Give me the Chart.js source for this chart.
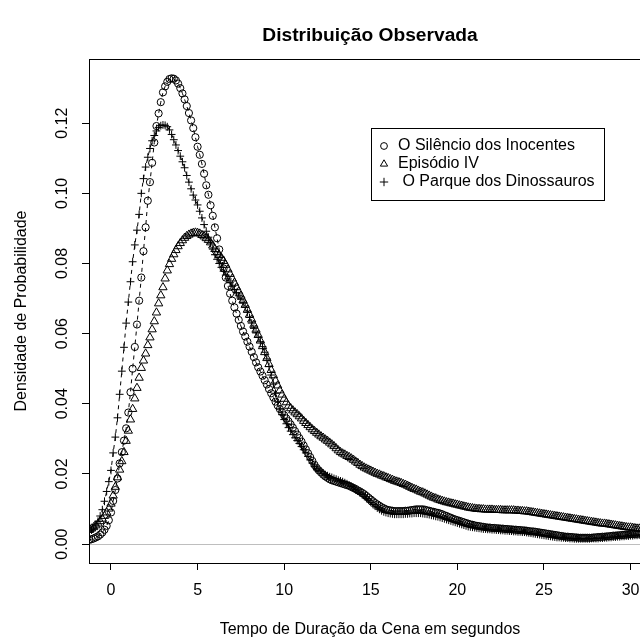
<!DOCTYPE html>
<html>
<head>
<meta charset="utf-8">
<title>Distribuição Observada</title>
<script src="https://cdn.jsdelivr.net/npm/chart.js@4.4.1/dist/chart.umd.min.js"></script>
<style>
  html, body { margin: 0; padding: 0; background: #fff; overflow: hidden; }
  #wrap { width: 662px; height: 638px; }
</style>
</head>
<body>
<div id="wrap"><canvas id="density-chart" width="662" height="638"></canvas></div>
<script>
// densidades (grade de 0.125 s)
const tempos = [
  -1.25, -1.125, -1, -0.875, -0.75, -0.625, -0.5, -0.375, -0.25, -0.125, 0, 0.125, 0.25, 0.375, 0.5, 0.625,
  0.75, 0.875, 1, 1.125, 1.25, 1.375, 1.5, 1.625, 1.75, 1.875, 2, 2.125, 2.25, 2.375, 2.5, 2.625,
  2.75, 2.875, 3, 3.125, 3.25, 3.375, 3.5, 3.625, 3.75, 3.875, 4, 4.125, 4.25, 4.375, 4.5, 4.625,
  4.75, 4.875, 5, 5.125, 5.25, 5.375, 5.5, 5.625, 5.75, 5.875, 6, 6.125, 6.25, 6.375, 6.5, 6.625,
  6.75, 6.875, 7, 7.125, 7.25, 7.375, 7.5, 7.625, 7.75, 7.875, 8, 8.125, 8.25, 8.375, 8.5, 8.625,
  8.75, 8.875, 9, 9.125, 9.25, 9.375, 9.5, 9.625, 9.75, 9.875, 10, 10.125, 10.25, 10.375, 10.5, 10.625,
  10.75, 10.875, 11, 11.125, 11.25, 11.375, 11.5, 11.625, 11.75, 11.875, 12, 12.125, 12.25, 12.375, 12.5, 12.625,
  12.75, 12.875, 13, 13.125, 13.25, 13.375, 13.5, 13.625, 13.75, 13.875, 14, 14.125, 14.25, 14.375, 14.5, 14.625,
  14.75, 14.875, 15, 15.125, 15.25, 15.375, 15.5, 15.625, 15.75, 15.875, 16, 16.125, 16.25, 16.375, 16.5, 16.625,
  16.75, 16.875, 17, 17.125, 17.25, 17.375, 17.5, 17.625, 17.75, 17.875, 18, 18.125, 18.25, 18.375, 18.5, 18.625,
  18.75, 18.875, 19, 19.125, 19.25, 19.375, 19.5, 19.625, 19.75, 19.875, 20, 20.125, 20.25, 20.375, 20.5, 20.625,
  20.75, 20.875, 21, 21.125, 21.25, 21.375, 21.5, 21.625, 21.75, 21.875, 22, 22.125, 22.25, 22.375, 22.5, 22.625,
  22.75, 22.875, 23, 23.125, 23.25, 23.375, 23.5, 23.625, 23.75, 23.875, 24, 24.125, 24.25, 24.375, 24.5, 24.625,
  24.75, 24.875, 25, 25.125, 25.25, 25.375, 25.5, 25.625, 25.75, 25.875, 26, 26.125, 26.25, 26.375, 26.5, 26.625,
  26.75, 26.875, 27, 27.125, 27.25, 27.375, 27.5, 27.625, 27.75, 27.875, 28, 28.125, 28.25, 28.375, 28.5, 28.625,
  28.75, 28.875, 29, 29.125, 29.25, 29.375, 29.5, 29.625, 29.75, 29.875, 30, 30.125, 30.25, 30.375, 30.5, 30.625
];

const silencio = [
  0.0012, 0.0014, 0.0016, 0.0019, 0.0022, 0.0027, 0.0033, 0.0041, 0.0052, 0.0068, 0.0090, 0.0123, 0.0154, 0.0187, 0.0230, 0.0262,
  0.0295, 0.0330, 0.0375, 0.0433, 0.0500, 0.0562, 0.0626, 0.0694, 0.0760, 0.0835, 0.0903, 0.0979, 0.1032, 0.1087, 0.1145, 0.1192,
  0.1228, 0.1260, 0.1288, 0.1305, 0.1318, 0.1326, 0.1328, 0.1327, 0.1322, 0.1313, 0.1300, 0.1285, 0.1268, 0.1249, 0.1229, 0.1208,
  0.1186, 0.1160, 0.1133, 0.1110, 0.1084, 0.1056, 0.1023, 0.0996, 0.0966, 0.0936, 0.0903, 0.0872, 0.0840, 0.0812, 0.0786, 0.0760,
  0.0736, 0.0714, 0.0694, 0.0675, 0.0657, 0.0639, 0.0622, 0.0606, 0.0592, 0.0577, 0.0563, 0.0548, 0.0533, 0.0518, 0.0504, 0.0492,
  0.0480, 0.0467, 0.0455, 0.0442, 0.0430, 0.0418, 0.0406, 0.0395, 0.0385, 0.0376, 0.0367, 0.0358, 0.0350, 0.0341, 0.0332, 0.0322,
  0.0312, 0.0302, 0.0292, 0.0281, 0.0270, 0.0259, 0.0248, 0.0237, 0.0226, 0.0217, 0.0210, 0.0204, 0.0198, 0.0193, 0.0189, 0.0185,
  0.0182, 0.0180, 0.0178, 0.0176, 0.0174, 0.0172, 0.0170, 0.0168, 0.0166, 0.0163, 0.0160, 0.0157, 0.0153, 0.0150, 0.0146, 0.0142,
  0.0137, 0.0132, 0.0127, 0.0122, 0.0117, 0.0113, 0.0109, 0.0105, 0.0102, 0.0099, 0.0097, 0.0096, 0.0095, 0.0094, 0.0094, 0.0094,
  0.0094, 0.0094, 0.0095, 0.0095, 0.0096, 0.0097, 0.0098, 0.0099, 0.0099, 0.0099, 0.0099, 0.0098, 0.0096, 0.0095, 0.0093, 0.0092,
  0.0090, 0.0089, 0.0087, 0.0085, 0.0082, 0.0080, 0.0077, 0.0075, 0.0072, 0.0070, 0.0068, 0.0066, 0.0064, 0.0062, 0.0060, 0.0058,
  0.0056, 0.0055, 0.0053, 0.0052, 0.0051, 0.0050, 0.0049, 0.0048, 0.0047, 0.0047, 0.0046, 0.0046, 0.0045, 0.0045, 0.0044, 0.0044,
  0.0043, 0.0043, 0.0042, 0.0042, 0.0041, 0.0041, 0.0040, 0.0040, 0.0039, 0.0039, 0.0038, 0.0037, 0.0036, 0.0036, 0.0035, 0.0034,
  0.0033, 0.0032, 0.0031, 0.0030, 0.0029, 0.0028, 0.0027, 0.0026, 0.0025, 0.0024, 0.0023, 0.0022, 0.0021, 0.0021, 0.0020, 0.0020,
  0.0019, 0.0019, 0.0018, 0.0018, 0.0018, 0.0018, 0.0018, 0.0018, 0.0018, 0.0019, 0.0019, 0.0020, 0.0020, 0.0021, 0.0021, 0.0022,
  0.0022, 0.0023, 0.0024, 0.0024, 0.0025, 0.0025, 0.0026, 0.0026, 0.0027, 0.0027, 0.0028, 0.0028, 0.0029, 0.0029, 0.0030, 0.0030
];

const episodio = [
  0.0040, 0.0044, 0.0048, 0.0053, 0.0058, 0.0065, 0.0072, 0.0080, 0.0090, 0.0101, 0.0115, 0.0138, 0.0163, 0.0190, 0.0212, 0.0236,
  0.0262, 0.0294, 0.0323, 0.0355, 0.0385, 0.0415, 0.0445, 0.0474, 0.0502, 0.0523, 0.0543, 0.0567, 0.0589, 0.0612, 0.0635, 0.0660,
  0.0686, 0.0709, 0.0732, 0.0757, 0.0780, 0.0798, 0.0813, 0.0826, 0.0838, 0.0849, 0.0858, 0.0866, 0.0873, 0.0878, 0.0882, 0.0885,
  0.0887, 0.0888, 0.0887, 0.0885, 0.0881, 0.0877, 0.0872, 0.0867, 0.0860, 0.0851, 0.0841, 0.0832, 0.0824, 0.0816, 0.0807, 0.0796,
  0.0783, 0.0770, 0.0757, 0.0745, 0.0732, 0.0720, 0.0708, 0.0695, 0.0682, 0.0668, 0.0654, 0.0640, 0.0625, 0.0611, 0.0596, 0.0580,
  0.0564, 0.0547, 0.0530, 0.0513, 0.0496, 0.0481, 0.0466, 0.0452, 0.0438, 0.0426, 0.0414, 0.0404, 0.0394, 0.0387, 0.0381, 0.0375,
  0.0370, 0.0364, 0.0358, 0.0351, 0.0345, 0.0339, 0.0333, 0.0327, 0.0322, 0.0317, 0.0312, 0.0307, 0.0303, 0.0298, 0.0294, 0.0289,
  0.0284, 0.0279, 0.0273, 0.0267, 0.0262, 0.0258, 0.0255, 0.0251, 0.0248, 0.0244, 0.0240, 0.0235, 0.0231, 0.0226, 0.0222, 0.0218,
  0.0215, 0.0212, 0.0209, 0.0206, 0.0203, 0.0200, 0.0198, 0.0195, 0.0193, 0.0190, 0.0188, 0.0185, 0.0183, 0.0180, 0.0178, 0.0176,
  0.0174, 0.0171, 0.0169, 0.0166, 0.0163, 0.0160, 0.0157, 0.0155, 0.0152, 0.0149, 0.0147, 0.0144, 0.0141, 0.0138, 0.0135, 0.0132,
  0.0130, 0.0127, 0.0125, 0.0123, 0.0121, 0.0119, 0.0118, 0.0116, 0.0115, 0.0113, 0.0112, 0.0110, 0.0109, 0.0107, 0.0106, 0.0104,
  0.0103, 0.0102, 0.0101, 0.0100, 0.0100, 0.0099, 0.0099, 0.0098, 0.0098, 0.0098, 0.0098, 0.0097, 0.0097, 0.0097, 0.0097, 0.0096,
  0.0096, 0.0096, 0.0096, 0.0096, 0.0096, 0.0095, 0.0095, 0.0094, 0.0094, 0.0093, 0.0093, 0.0092, 0.0091, 0.0090, 0.0089, 0.0088,
  0.0087, 0.0086, 0.0085, 0.0084, 0.0083, 0.0082, 0.0081, 0.0080, 0.0079, 0.0078, 0.0077, 0.0076, 0.0075, 0.0074, 0.0073, 0.0072,
  0.0071, 0.0070, 0.0069, 0.0068, 0.0067, 0.0066, 0.0065, 0.0064, 0.0063, 0.0062, 0.0061, 0.0060, 0.0059, 0.0058, 0.0058, 0.0057,
  0.0056, 0.0055, 0.0054, 0.0053, 0.0052, 0.0051, 0.0050, 0.0049, 0.0048, 0.0047, 0.0047, 0.0046, 0.0045, 0.0044, 0.0044, 0.0043
];

const parque = [
  0.0035, 0.0040, 0.0045, 0.0054, 0.0065, 0.0080, 0.0098, 0.0122, 0.0150, 0.0178, 0.0210, 0.0260, 0.0305, 0.0360, 0.0427, 0.0493,
  0.0561, 0.0630, 0.0690, 0.0748, 0.0805, 0.0853, 0.0895, 0.0940, 0.1000, 0.1042, 0.1075, 0.1103, 0.1128, 0.1150, 0.1165, 0.1178,
  0.1188, 0.1193, 0.1195, 0.1194, 0.1190, 0.1181, 0.1168, 0.1153, 0.1138, 0.1122, 0.1106, 0.1090, 0.1073, 0.1051, 0.1032, 0.1013,
  0.0995, 0.0981, 0.0967, 0.0949, 0.0930, 0.0911, 0.0892, 0.0875, 0.0858, 0.0841, 0.0825, 0.0812, 0.0800, 0.0789, 0.0778, 0.0767,
  0.0756, 0.0745, 0.0735, 0.0726, 0.0717, 0.0708, 0.0698, 0.0687, 0.0675, 0.0661, 0.0646, 0.0630, 0.0615, 0.0602, 0.0590, 0.0577,
  0.0563, 0.0547, 0.0528, 0.0506, 0.0482, 0.0456, 0.0430, 0.0406, 0.0385, 0.0369, 0.0355, 0.0343, 0.0332, 0.0322, 0.0312, 0.0303,
  0.0295, 0.0287, 0.0278, 0.0269, 0.0260, 0.0250, 0.0240, 0.0231, 0.0222, 0.0215, 0.0210, 0.0206, 0.0202, 0.0198, 0.0195, 0.0192,
  0.0190, 0.0187, 0.0185, 0.0182, 0.0180, 0.0178, 0.0175, 0.0172, 0.0168, 0.0164, 0.0160, 0.0156, 0.0151, 0.0146, 0.0141, 0.0136,
  0.0130, 0.0125, 0.0119, 0.0113, 0.0108, 0.0103, 0.0099, 0.0095, 0.0092, 0.0090, 0.0088, 0.0087, 0.0086, 0.0085, 0.0085, 0.0085,
  0.0085, 0.0085, 0.0086, 0.0086, 0.0087, 0.0087, 0.0088, 0.0088, 0.0088, 0.0088, 0.0087, 0.0086, 0.0085, 0.0084, 0.0082, 0.0081,
  0.0079, 0.0078, 0.0076, 0.0074, 0.0072, 0.0070, 0.0068, 0.0066, 0.0064, 0.0062, 0.0060, 0.0058, 0.0056, 0.0054, 0.0052, 0.0050,
  0.0049, 0.0048, 0.0047, 0.0046, 0.0045, 0.0044, 0.0043, 0.0043, 0.0042, 0.0042, 0.0041, 0.0041, 0.0040, 0.0040, 0.0039, 0.0039,
  0.0038, 0.0038, 0.0037, 0.0037, 0.0036, 0.0036, 0.0035, 0.0035, 0.0034, 0.0034, 0.0033, 0.0032, 0.0031, 0.0030, 0.0029, 0.0028,
  0.0027, 0.0026, 0.0025, 0.0024, 0.0023, 0.0022, 0.0021, 0.0020, 0.0019, 0.0019, 0.0018, 0.0018, 0.0017, 0.0017, 0.0016, 0.0016,
  0.0015, 0.0015, 0.0015, 0.0015, 0.0015, 0.0015, 0.0015, 0.0015, 0.0016, 0.0016, 0.0016, 0.0016, 0.0017, 0.0017, 0.0018, 0.0018,
  0.0019, 0.0019, 0.0020, 0.0020, 0.0021, 0.0021, 0.0022, 0.0022, 0.0023, 0.0023, 0.0024, 0.0024, 0.0025, 0.0025, 0.0026, 0.0026
];

const seriesLabels = ['O Silêncio dos Inocentes', 'Episódio IV', ' O Parque dos Dinossauros'];
const seriesStyles = ['circle', 'triangle', 'cross'];
const xTicks = [0, 5, 10, 15, 20, 25, 30];
const yTicks = [0, 0.02, 0.04, 0.06, 0.08, 0.10, 0.12];

const fontFamily = '"Liberation Sans", Arial, Helvetica, sans-serif';
Chart.defaults.font.family = fontFamily;
Chart.defaults.color = '#000';

function toPoints(values) {
  return tempos.map((t, i) => ({ x: t, y: values[i] }));
}

// desenha o simbolo de cada serie (usado na legenda)
function drawSymbol(ctx, style, x, y, r) {
  ctx.beginPath();
  if (style === 'circle') {
    ctx.arc(x, y, r, 0, Math.PI * 2);
  } else if (style === 'triangle') {
    ctx.moveTo(x, y - r);
    ctx.lineTo(x + r * 0.866, y + r * 0.5);
    ctx.lineTo(x - r * 0.866, y + r * 0.5);
    ctx.closePath();
  } else {
    ctx.moveTo(x - r, y); ctx.lineTo(x + r, y);
    ctx.moveTo(x, y - r); ctx.lineTo(x, y + r);
  }
  ctx.stroke();
}

const rPlotPlugin = {
  id: 'rPlot',
  beforeDatasetsDraw(chart) {
    const { ctx, chartArea, scales } = chart;
    const y0 = Math.round(scales.y.getPixelForValue(0)) + 0.5;
    ctx.save();
    ctx.strokeStyle = '#bebebe';
    ctx.lineWidth = 1;
    ctx.beginPath();
    ctx.moveTo(chartArea.left, y0);
    ctx.lineTo(chartArea.right, y0);
    ctx.stroke();
    ctx.restore();
  },
  afterDraw(chart) {
    const { ctx, chartArea, scales } = chart;
    ctx.save();

    // moldura
    ctx.strokeStyle = '#000';
    ctx.lineWidth = 1;
    const l = Math.round(chartArea.left) + 0.5;
    const t = Math.round(chartArea.top) + 0.5;
    const r = Math.round(chartArea.right) + 0.5;
    const b = Math.round(chartArea.bottom) + 0.5;
    ctx.strokeRect(l, t, r - l, b - t);

    // rotulos do eixo y (girados, como no R)
    ctx.fillStyle = '#000';
    ctx.font = '16px ' + fontFamily;
    ctx.textAlign = 'center';
    ctx.textBaseline = 'middle';
    yTicks.forEach(v => {
      const py = scales.y.getPixelForValue(v);
      ctx.save();
      ctx.translate(63, py);
      ctx.rotate(-Math.PI / 2);
      ctx.fillText(v.toFixed(2), 0, 0);
      ctx.restore();
    });

    // legenda
    const box = { left: 371, top: 128, width: 233, height: 72 };
    ctx.fillStyle = '#fff';
    ctx.fillRect(box.left, box.top, box.width, box.height);
    ctx.strokeRect(box.left + 0.5, box.top + 0.5, box.width, box.height);
    ctx.textAlign = 'left';
    ctx.fillStyle = '#000';
    seriesLabels.forEach((label, i) => {
      const rowY = box.top + 18 + i * 18;
      const size = seriesStyles[i] === 'circle' ? 3.4 : 4.2;
      drawSymbol(ctx, seriesStyles[i], box.left + 13, rowY, size);
      ctx.fillText(label, box.left + 27, rowY);
    });

    ctx.restore();
  }
};

const commonPoint = {
  borderColor: '#000',
  borderWidth: 1,
  pointBorderColor: '#000',
  pointBackgroundColor: 'rgba(0,0,0,0)',
  pointBorderWidth: 1,
  tension: 0
};

const chart = new Chart(document.getElementById('density-chart'), {
  type: 'scatter',
  data: {
    datasets: [
      Object.assign({}, commonPoint, {
        label: seriesLabels[0],
        data: toPoints(silencio),
        showLine: true,
        borderDash: [4, 4],
        pointStyle: 'circle',
        pointRadius: 3.6
      }),
      Object.assign({}, commonPoint, {
        label: seriesLabels[1],
        data: toPoints(episodio),
        showLine: false,
        pointStyle: 'triangle',
        pointRadius: 4.8
      }),
      Object.assign({}, commonPoint, {
        label: seriesLabels[2],
        data: toPoints(parque),
        showLine: true,
        borderDash: [4, 4],
        pointStyle: 'cross',
        pointRadius: 3.9
      })
    ]
  },
  options: {
    responsive: false,
    animation: false,
    layout: { padding: { left: 0, right: 11, top: 0, bottom: 0 } },
    plugins: {
      legend: { display: false },
      tooltip: { enabled: false },
      title: {
        display: true,
        fullSize: false,
        text: 'Distribuição Observada',
        color: '#000',
        font: { size: 19.2, weight: 'bold', lineHeight: 1.2 },
        padding: { top: 24, bottom: 12 }
      }
    },
    scales: {
      x: {
        type: 'linear',
        min: -1.27,
        max: 31.18,
        afterBuildTicks: scale => { scale.ticks = xTicks.map(v => ({ value: v })); },
        border: { display: false },
        grid: { drawOnChartArea: false, drawTicks: true, tickLength: 7, tickColor: '#000', tickWidth: 1 },
        ticks: { padding: 11, maxRotation: 0, color: '#000', font: { size: 16 } },
        title: {
          display: true,
          text: 'Tempo de Duração da Cena em segundos',
          color: '#000',
          font: { size: 16, lineHeight: 1 },
          padding: { top: 10.8, bottom: 0 }
        }
      },
      y: {
        type: 'linear',
        min: -0.0054,
        max: 0.1383,
        afterBuildTicks: scale => { scale.ticks = yTicks.map(v => ({ value: v })); },
        afterFit: scale => { scale.width = 89; },
        border: { display: false },
        grid: { drawOnChartArea: false, drawTicks: true, tickLength: 7, tickColor: '#000', tickWidth: 1 },
        ticks: { display: false },
        title: {
          display: true,
          text: 'Densidade de Probabilidade',
          color: '#000',
          font: { size: 16, lineHeight: 1 },
          padding: { top: 14, bottom: 0 }
        }
      }
    }
  },
  plugins: [rPlotPlugin]
});
</script>
</body>
</html>
